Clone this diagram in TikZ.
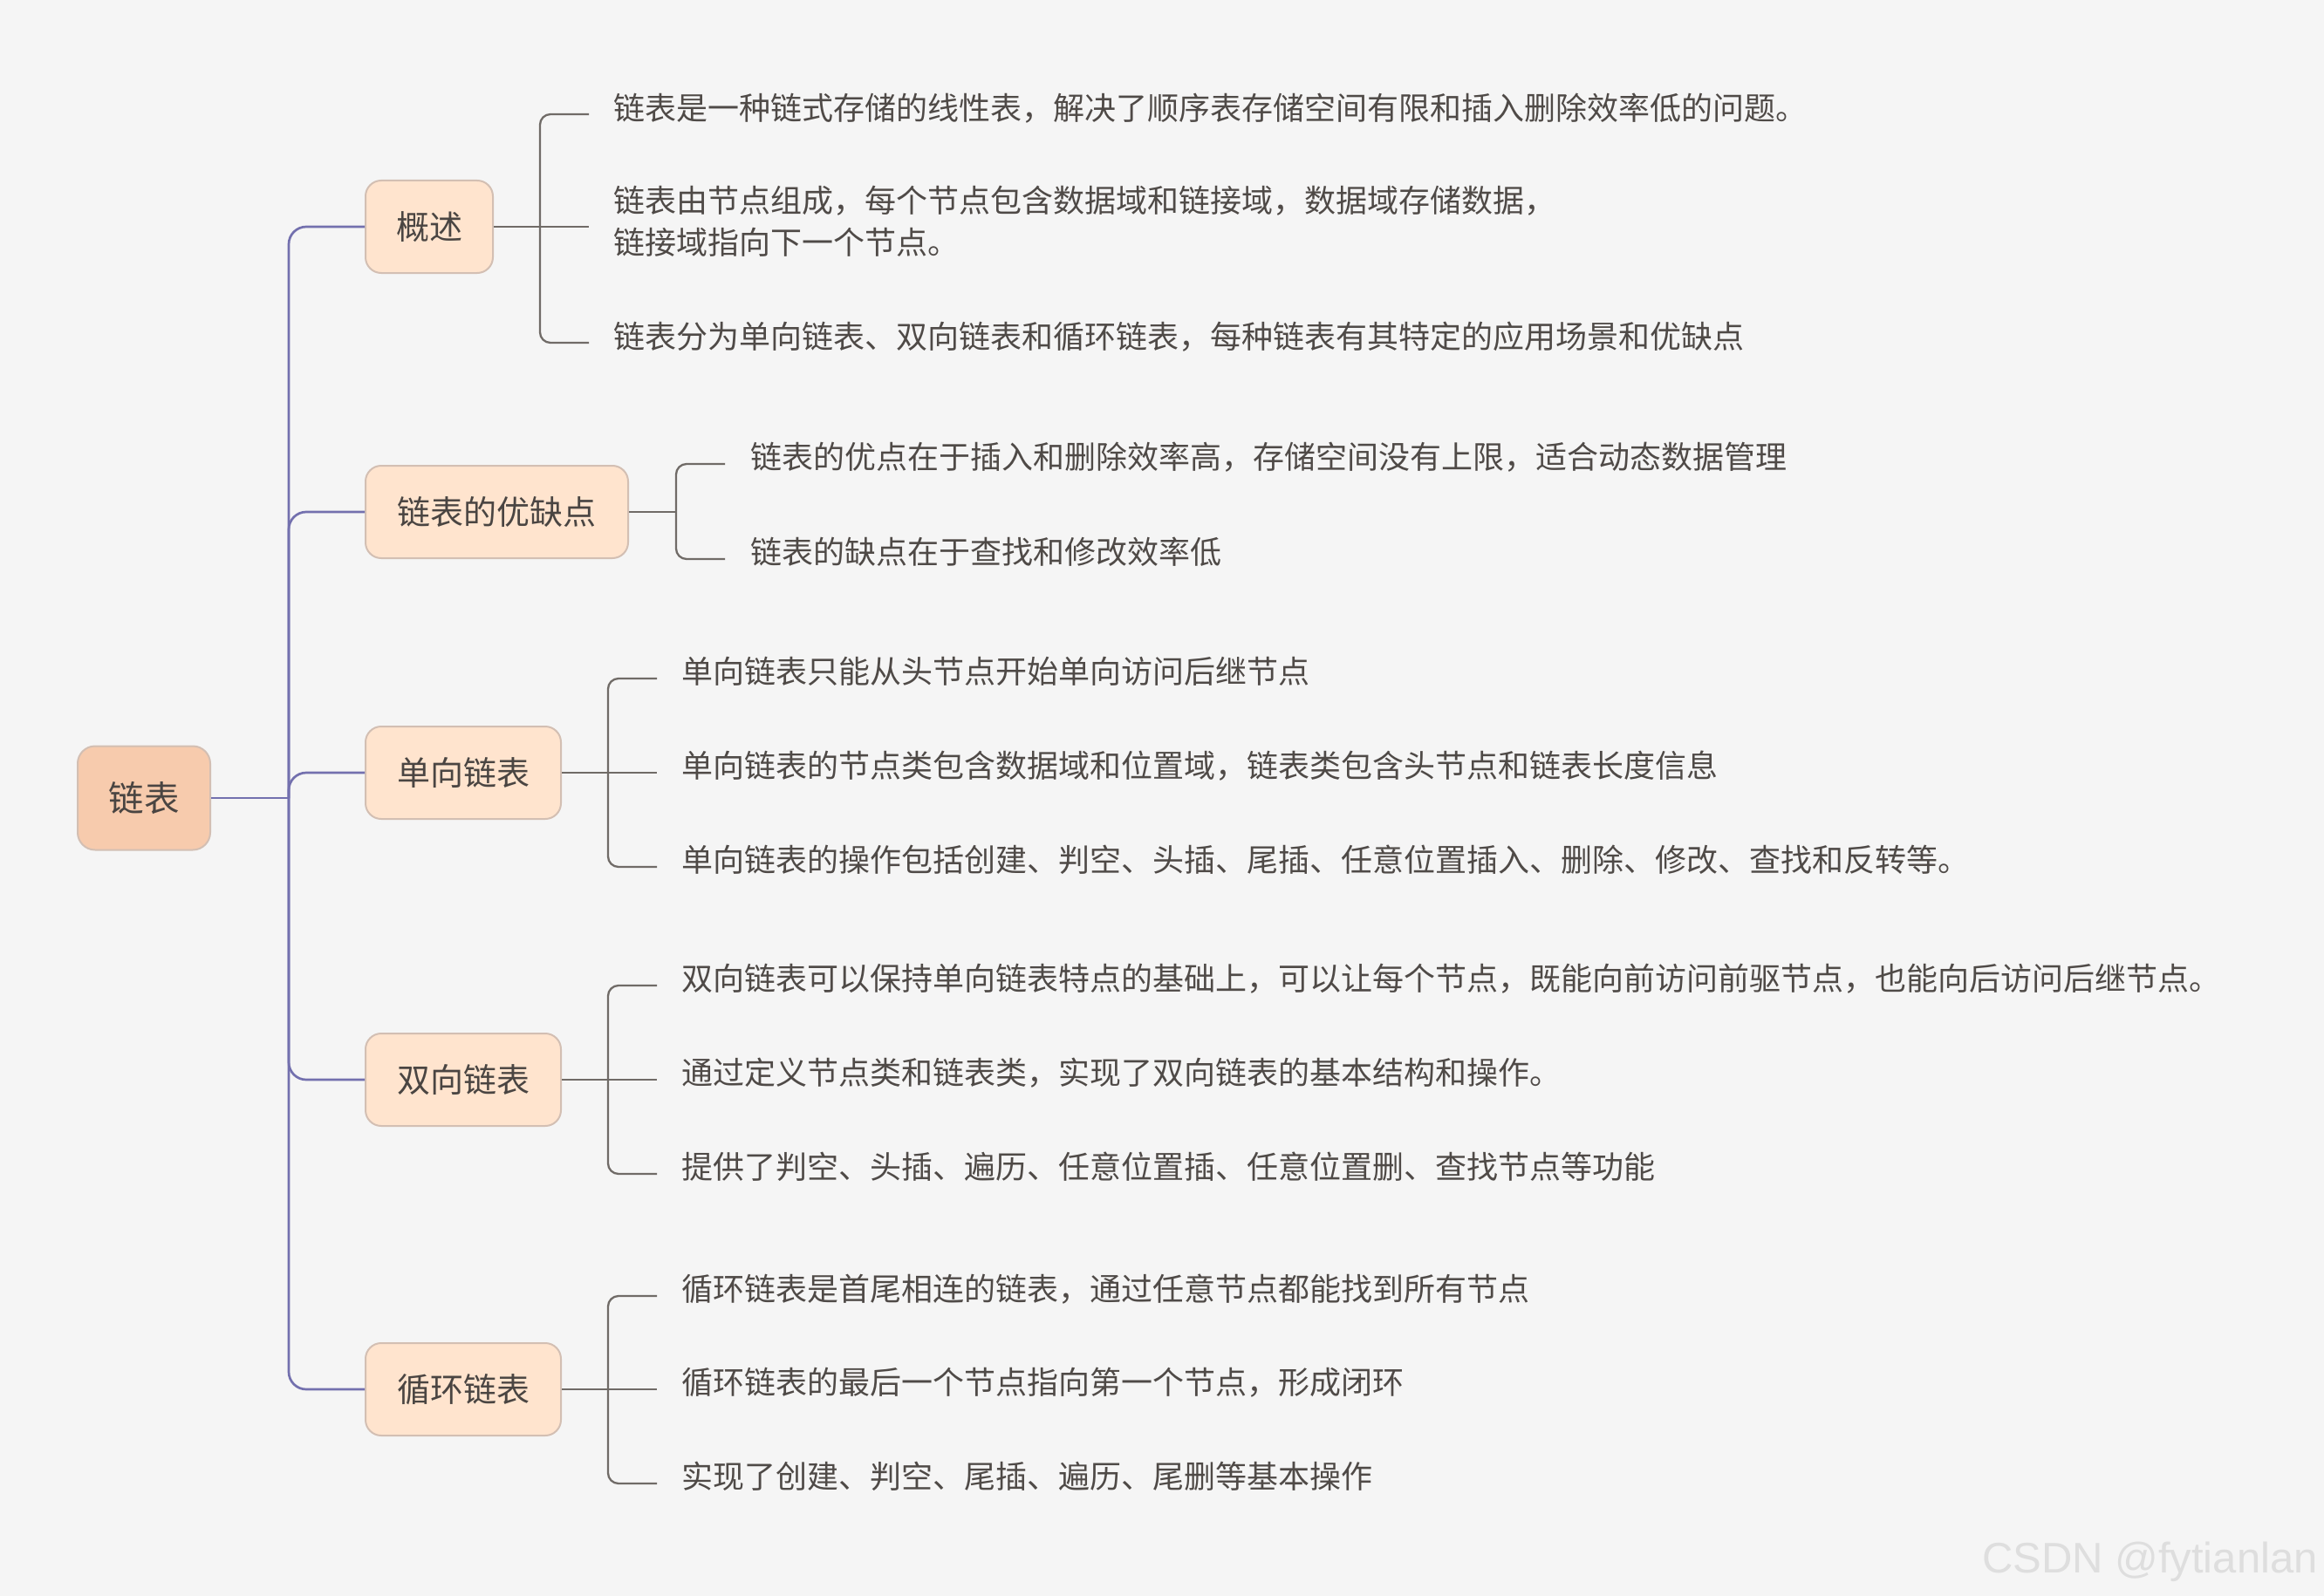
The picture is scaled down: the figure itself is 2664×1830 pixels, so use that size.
\documentclass[tikz,border=0pt]{standalone}
\usepackage{fontspec}
\newfontfamily\cjk{Noto Sans CJK SC}
\newfontfamily\wmfont{Liberation Sans}
\definecolor{bgc}{HTML}{F5F5F5}
\definecolor{spinec}{HTML}{7370AE}
\definecolor{brc}{HTML}{706B67}
\definecolor{rootfill}{HTML}{F7CBAD}
\definecolor{brfill}{HTML}{FFE4CE}
\definecolor{boxline}{HTML}{D3BFB3}
\definecolor{txtc}{HTML}{4A4542}
\definecolor{leafc}{HTML}{4F4A47}
\definecolor{wmc}{HTML}{DEDEDE}
\tikzset{
  rootbox/.style={draw=boxline, line width=2pt, fill=rootfill, rounded corners=20pt,
    minimum width=152pt, minimum height=119pt, inner sep=0pt, text=txtc,
    font=\cjk\fontsize{40.5}{48}\selectfont},
  branchbox/.style={draw=boxline, line width=2pt, fill=brfill, rounded corners=18pt,
    minimum height=106pt, inner sep=0pt, text=txtc,
    font=\cjk\fontsize{38}{46}\selectfont},
  leaf/.style={anchor=west, inner sep=0pt, text=leafc, align=left,
    font=\cjk\fontsize{36}{48}\selectfont},
  spine/.style={draw=spinec, line width=2.7pt},
  brline/.style={draw=brc, line width=2.3pt},
}
\begin{document}
\begin{tikzpicture}[x=1pt,y=-1pt]
\fill[bgc] (0,0) rectangle (2664,1830);
\useasboundingbox (0,0) rectangle (2664,1830);

% root and branches
\node[rootbox] (root) at (165,915) {链表};
\coordinate (sp) at (331,915);
\node[branchbox, minimum width=146pt] (b1) at (492,260) {概述};
\node[branchbox, minimum width=301pt] (b2) at (569.5,587) {链表的优缺点};
\node[branchbox, minimum width=224pt] (b3) at (531,886) {单向链表};
\node[branchbox, minimum width=224pt] (b4) at (531,1238) {双向链表};
\node[branchbox, minimum width=224pt] (b5) at (531,1593) {循环链表};

\draw[spine] (root.east) -- (sp);
\foreach \b in {b1,b2,b3,b4,b5}{
  \draw[spine, rounded corners=20pt] (sp) |- (\b.west);
}

% ---- 概述
\coordinate (k1) at (619,260);
\coordinate (c11) at (675,131);
\coordinate (c12) at (675,260);
\coordinate (c13) at (675,393);
\draw[brline] (b1.east) -- (c12);
\draw[brline, rounded corners=12pt] (c11) -| (k1 |- c13) -- (c13);
\node[leaf] (l11) at (703,124) {链表是一种链式存储的线性表，解决了顺序表存储空间有限和插入删除效率低的问题。};
\node[leaf] (l12) at (703,254) {链表由节点组成，每个节点包含数据域和链接域，数据域存储数据，\\链接域指向下一个节点。};
\node[leaf] (l13) at (703,386) {链表分为单向链表、双向链表和循环链表，每种链表有其特定的应用场景和优缺点};

% ---- 链表的优缺点
\coordinate (k2) at (775,587);
\coordinate (c21) at (831,532);
\coordinate (c23) at (831,641);
\draw[brline] (b2.east) -- (k2);
\draw[brline, rounded corners=12pt] (c21) -| (k2 |- c23) -- (c23);
\node[leaf] (l21) at (860,524) {链表的优点在于插入和删除效率高，存储空间没有上限，适合动态数据管理};
\node[leaf] (l22) at (860,633) {链表的缺点在于查找和修改效率低};

% ---- 单向链表
\coordinate (k3) at (697,886);
\coordinate (c31) at (753,778);
\coordinate (c32) at (753,886);
\coordinate (c33) at (753,994);
\draw[brline] (b3.east) -- (c32);
\draw[brline, rounded corners=12pt] (c31) -| (k3 |- c33) -- (c33);
\node[leaf] (l31) at (781,770) {单向链表只能从头节点开始单向访问后继节点};
\node[leaf] (l32) at (781,878) {单向链表的节点类包含数据域和位置域，链表类包含头节点和链表长度信息};
\node[leaf] (l33) at (781,986) {单向链表的操作包括创建、判空、头插、尾插、任意位置插入、删除、修改、查找和反转等。};

% ---- 双向链表
\coordinate (k4) at (697,1238);
\coordinate (c41) at (753,1130);
\coordinate (c42) at (753,1238);
\coordinate (c43) at (753,1346);
\draw[brline] (b4.east) -- (c42);
\draw[brline, rounded corners=12pt] (c41) -| (k4 |- c43) -- (c43);
\node[leaf] (l41) at (781,1122) {双向链表可以保持单向链表特点的基础上，可以让每个节点，既能向前访问前驱节点，也能向后访问后继节点。};
\node[leaf] (l42) at (781,1230) {通过定义节点类和链表类，实现了双向链表的基本结构和操作。};
\node[leaf] (l43) at (781,1338) {提供了判空、头插、遍历、任意位置插、任意位置删、查找节点等功能};

% ---- 循环链表
\coordinate (k5) at (697,1593);
\coordinate (c51) at (753,1486);
\coordinate (c52) at (753,1593);
\coordinate (c53) at (753,1701);
\draw[brline] (b5.east) -- (c52);
\draw[brline, rounded corners=12pt] (c51) -| (k5 |- c53) -- (c53);
\node[leaf] (l51) at (781,1478) {循环链表是首尾相连的链表，通过任意节点都能找到所有节点};
\node[leaf] (l52) at (781,1585) {循环链表的最后一个节点指向第一个节点，形成闭环};
\node[leaf] (l53) at (781,1693) {实现了创建、判空、尾插、遍历、尾删等基本操作};

% watermark
\node[anchor=base east, inner sep=0pt, text=wmc, font=\wmfont\fontsize{49}{55}\selectfont] (wm) at (2657,1803) {CSDN @fytianlan};
\end{tikzpicture}
\end{document}
